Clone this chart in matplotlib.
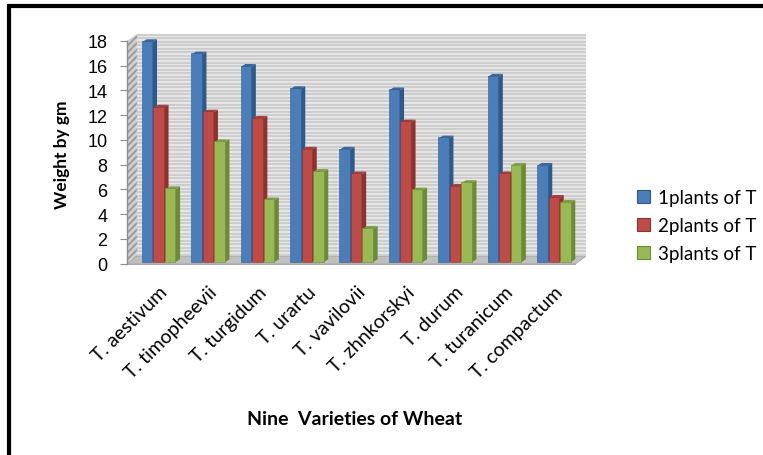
import matplotlib
matplotlib.use("Agg")
import matplotlib.pyplot as plt
from matplotlib.patches import Polygon, Patch
from matplotlib.lines import Line2D
import numpy as np

varieties = ["T. aestivum", "T. timopheevii", "T. turgidum", "T. urartu", "T. vavilovii",
             "T. zhnkorskyi", "T. durum", "T. turanicum", "T. compactum"]
plants1 = [17.9, 16.9, 15.9, 14.1, 9.2, 14.0, 10.1, 15.1, 7.9]
plants2 = [12.6, 12.2, 11.7, 9.2, 7.2, 11.4, 6.2, 7.2, 5.3]
plants3 = [6.0, 9.8, 5.1, 7.4, 2.8, 5.9, 6.5, 7.9, 4.9]
series_names = ["1plants of T", "2plants of T", "3plants of T"]

# front / side / top colours for each series
front = ["#4a7ebb", "#be4b48", "#98b954"]
side = ["#2f5987", "#8c3330", "#6d8a38"]
top = ["#3b679c", "#a33e3b", "#7f9e45"]

label_font = "Lato"

fig = plt.figure(figsize=(7.63, 4.56), dpi=100)
ax = fig.add_axes([127 / 763, (456 - 264.5) / 456, 453 / 763, 222.5 / 456])
ax.set_xlim(-0.64, 8.53)
ax.set_ylim(0, 18)

# depth of the box and of each column
wall_dx, wall_dy = 0.20, 0.57
bar_dx, bar_dy = 0.095, 0.24
bar_w = 0.2125
step = 0.233

x0, x1 = -0.64, 8.45
# back wall with horizontal stripes
ax.add_patch(Polygon([(x0 + wall_dx, wall_dy), (8.644, wall_dy), (8.644, 18 + wall_dy),
                      (x0 + wall_dx, 18 + wall_dy)], closed=True, facecolor="#e6e6e6",
                     edgecolor="none", zorder=0.5, clip_on=False))
for yy in np.arange(wall_dy + 0.12, 18 + wall_dy, 0.283):
    ax.plot([x0 + wall_dx, 8.644], [yy, yy], color="#c6c6c6", lw=1.1, zorder=0.6,
            clip_on=False, solid_capstyle="butt")
# side wall
plt.rcParams["hatch.linewidth"] = 1.4
ax.add_patch(Polygon([(x0, 0), (x0 + wall_dx, wall_dy), (x0 + wall_dx, 18 + wall_dy), (x0, 18)],
                     closed=True, facecolor="#d0d0d0", edgecolor="#9a9a9a", lw=0,
                     hatch="/////", zorder=0.7, clip_on=False))
# floor
ax.add_patch(Polygon([(x0, 0), (x1, 0), (8.644, wall_dy), (x0 + wall_dx, wall_dy)], closed=True,
                     facecolor="#c0c0c0", edgecolor="#a0a0a0", lw=0.5, zorder=0.8, clip_on=False))
ax.add_patch(Polygon([(x0, -0.12), (x1, -0.12), (x1, 0), (x0, 0)], closed=True,
                     facecolor="#a8a8a8", edgecolor="none", zorder=0.8, clip_on=False))

x = np.arange(len(varieties))
all_series = [plants1, plants2, plants3]
z = 2
for i in range(len(varieties)):
    for k, vals in enumerate(all_series):
        xc = x[i] + (k - 1) * step
        v = vals[i]
        xl, xr = xc - bar_w / 2, xc + bar_w / 2
        ax.bar(xc, v, width=bar_w, bottom=0.1, color=front[k], edgecolor=side[k],
               linewidth=0.4, zorder=z + 0.2)
        ax.add_patch(Polygon([(xr, 0.1), (xr + bar_dx, 0.1 + bar_dy), (xr + bar_dx, v + bar_dy),
                              (xr, v)], closed=True, facecolor=side[k], edgecolor="none",
                             zorder=z, clip_on=False))
        ax.add_patch(Polygon([(xl, v), (xr, v), (xr + bar_dx, v + bar_dy), (xl + bar_dx, v + bar_dy)],
                             closed=True, facecolor=top[k], edgecolor="none", zorder=z + 0.1,
                             clip_on=False))
        z += 1

for s in ["top", "right", "bottom"]:
    ax.spines[s].set_visible(False)
ax.spines["left"].set_color("#8c8c8c")
ax.spines["left"].set_linewidth(1.0)
ax.patch.set_visible(False)

ax.set_yticks(range(0, 19, 2))
ax.tick_params(axis="y", length=5, color="#8c8c8c", pad=9, labelsize=13)
for t in ax.get_yticklabels():
    t.set_fontfamily("Liberation Sans")

ax.set_xticks(x)
ax.set_xticklabels(varieties, rotation=45, ha="right", rotation_mode="anchor",
                   fontsize=14, fontfamily=label_font)
ax.tick_params(axis="x", length=0, pad=14)

fig.text(61.5 / 763, 1 - 155 / 456, "Weight by gm", rotation=90, ha="center", va="center",
         fontsize=12.5, fontweight="bold", fontfamily=label_font)
fig.text(355 / 763, 1 - 420 / 456, "Nine  Varieties of Wheat", ha="center", va="center",
         fontsize=14, fontweight="bold", fontfamily=label_font)

handles = [Patch(facecolor=front[k], edgecolor=side[k], lw=0.8) for k in range(3)]
fig.legend(handles, series_names, loc="upper left", bbox_to_anchor=(620 / 763, 1 - 173 / 456),
           frameon=False, handlelength=0.7, handleheight=0.7, handletextpad=0.4,
           labelspacing=0.6, prop={"family": label_font, "size": 13.5})

# black frame along the top and left edge
fig.add_artist(Line2D([9 / 763, 9 / 763], [0, 1 - 5 / 456], transform=fig.transFigure,
                      color="black", lw=3, solid_capstyle="butt"))
fig.add_artist(Line2D([7 / 763, 1], [1 - 7 / 456, 1 - 7 / 456], transform=fig.transFigure,
                      color="black", lw=3, solid_capstyle="butt"))

fig.savefig("out.png", dpi=100)
